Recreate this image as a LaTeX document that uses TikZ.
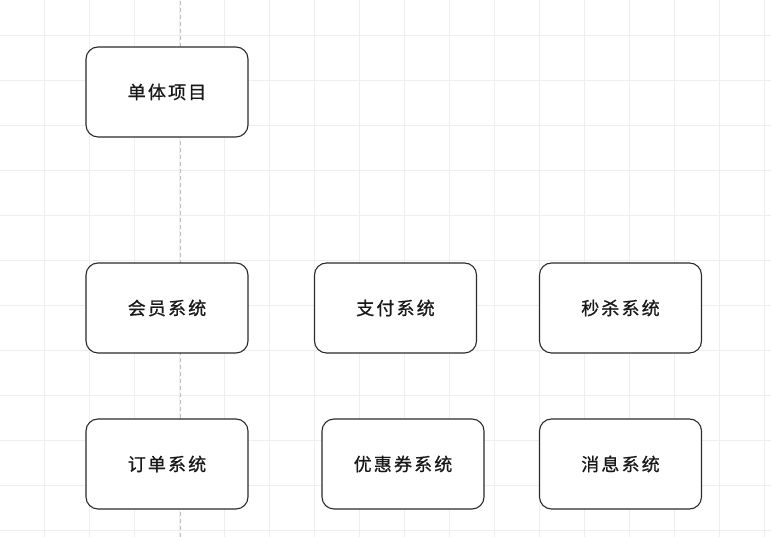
\documentclass[tikz,border=0pt]{standalone}
\usepackage{fontspec}
\usepackage{tikz}
\usepackage{xcolor}
\usetikzlibrary{positioning}
\newfontfamily\cjk[LetterSpace=12,FakeBold=0.8]{Noto Sans CJK SC}

\definecolor{gridgray}{HTML}{EEEEEE}
\definecolor{boxline}{HTML}{2B2B2B}

\begin{document}
\begin{tikzpicture}[
          x=1pt, y=1pt,
          every node/.style={font=\cjk\fontsize{18}{20}\selectfont, text=black!90},
          gridline/.style={draw=gridgray, line width=0.8pt},
          midline/.style={draw=black!25, line width=0.8pt, dash pattern=on 4pt off 3pt},
          sysbox/.style={draw=boxline, line width=1.1pt, rounded corners=12pt, fill=white,
                         minimum width=162pt, minimum height=90pt, inner sep=0pt}
      ]
        \fill[white] (0,0) rectangle (771,537);
        \useasboundingbox (0,0) rectangle (771,537);

        % background grid
        \foreach \gx in {1,...,17}
          \draw[gridline] (45*\gx-0.5,0) -- (45*\gx-0.5,537);
        \foreach \gy in {0,...,11}
          \draw[gridline] (0,502-45*\gy) -- (771,502-45*\gy);
        \draw[midline] (180,0) -- (180,537);

        \node[sysbox] (mono) at (167,445) {单体项目};

        \node[sysbox] (member) at (167,229) {会员系统};
        \node[sysbox] (pay) at (395.5,229) {支付系统};
        \node[sysbox] (seckill) at (620.5,229) {秒杀系统};

        \node[sysbox] (order) at (167,73) {订单系统};
        \node[sysbox] (coupon) at (403,73) {优惠券系统};
        \node[sysbox] (msg) at (620.5,73) {消息系统};
      \end{tikzpicture}
\end{document}
